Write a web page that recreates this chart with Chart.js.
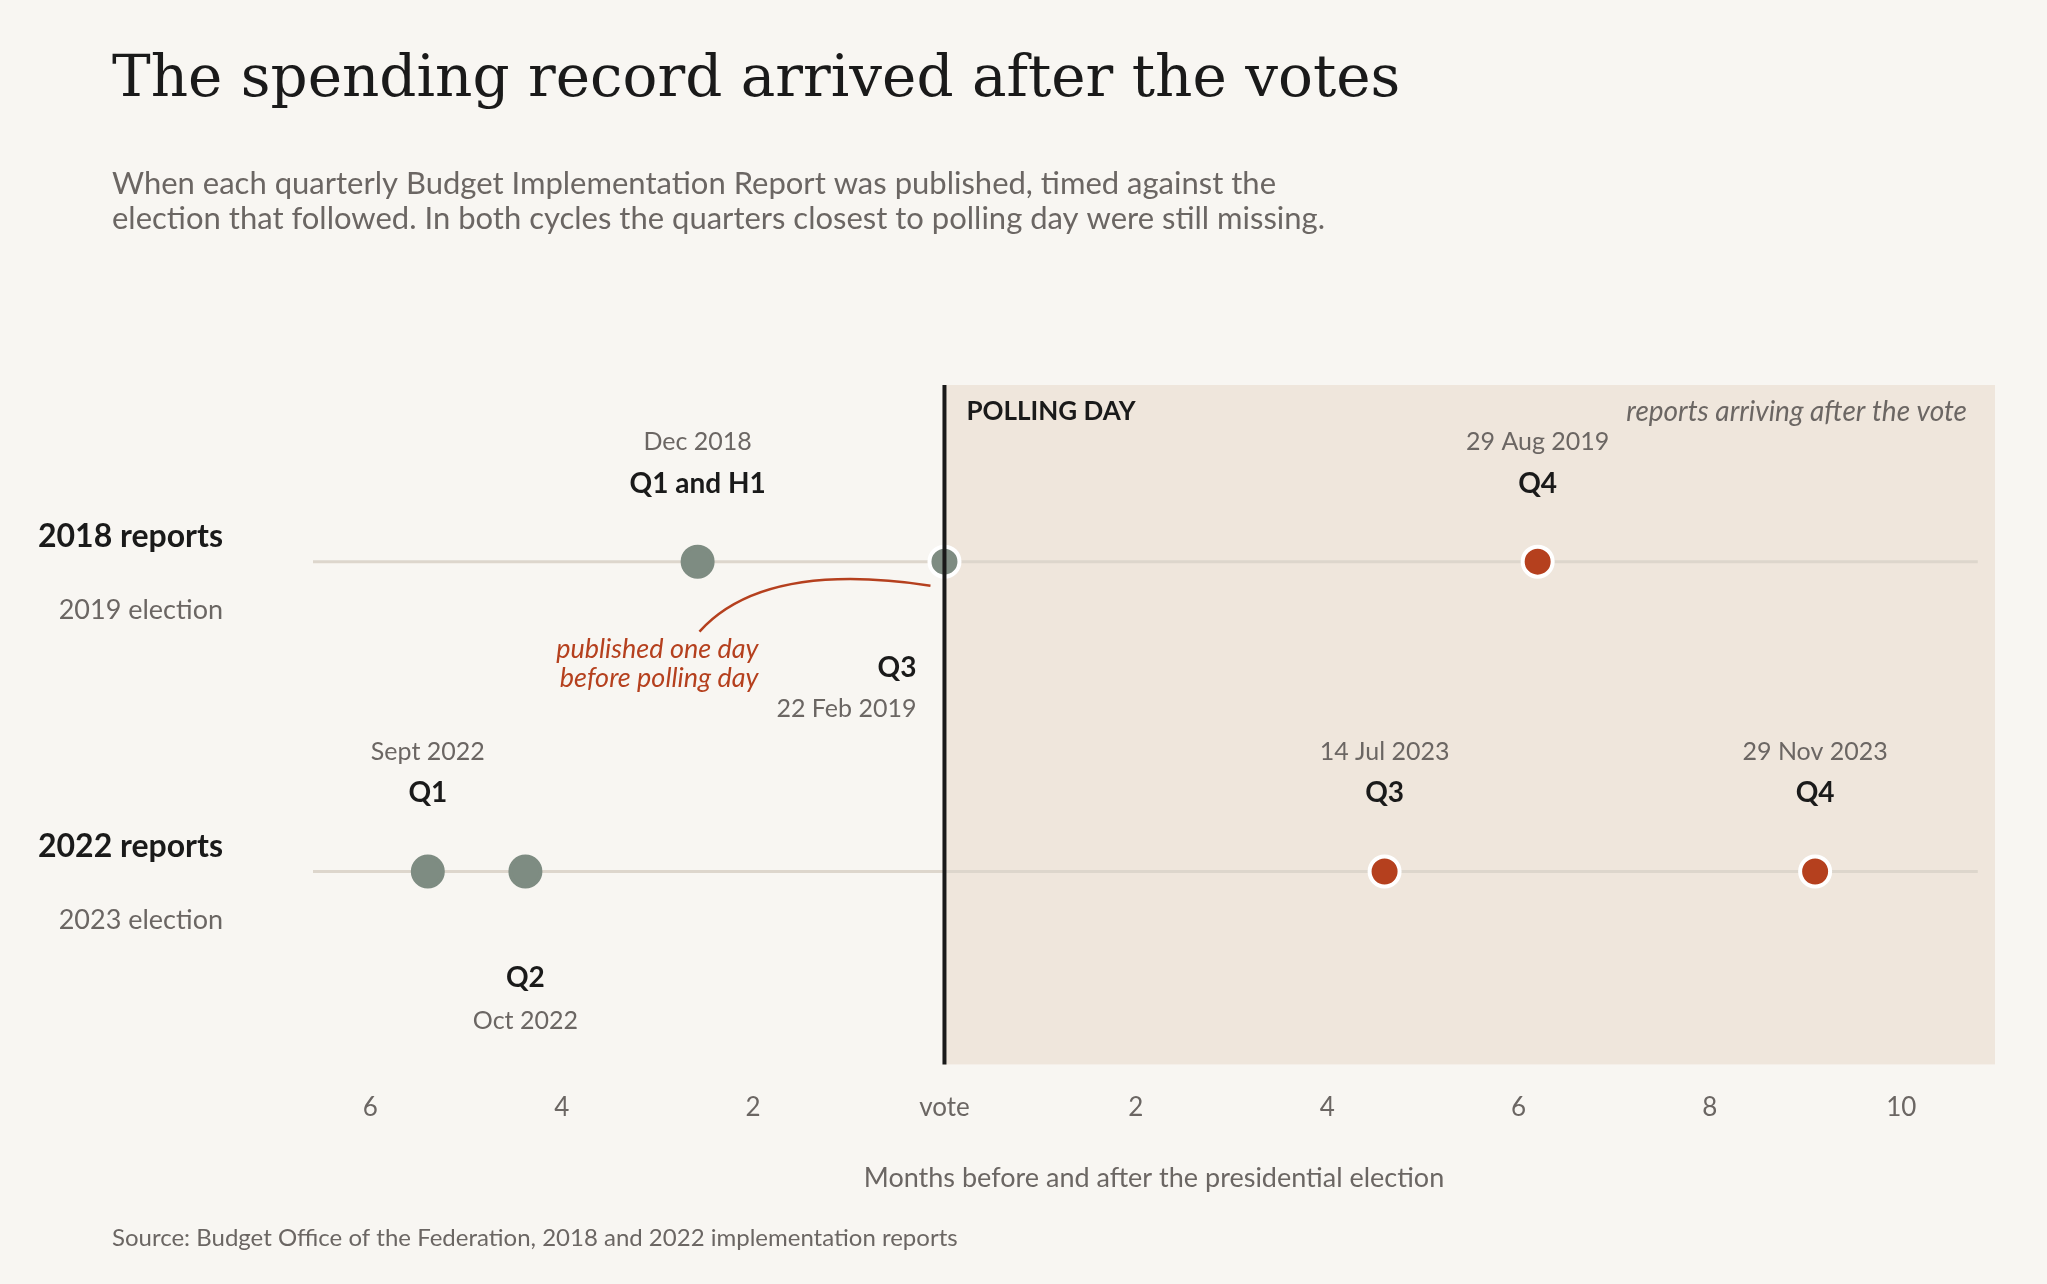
<!DOCTYPE html>
<html>
<head>
<meta charset="utf-8">
<script src="https://cdn.jsdelivr.net/npm/chart.js@4/dist/chart.umd.min.js"></script>
<style>
  html, body { margin: 0; padding: 0; background: #f8f6f2; }
  #wrap { position: relative; width: 2047px; height: 1284px; }
</style>
</head>
<body>
<div id="wrap"><canvas id="chart" width="2047" height="1284"></canvas></div>
<script>
// rows and reports
const rowNames = ['2018 reports', '2022 reports'];
const rowElections = ['2019 election', '2023 election'];
const rowY = [0.74, 0.284];

const reportRow = [0, 0, 0, 1, 1, 1, 1];
const reportMonths = [-2.58, 0, 6.2, -5.4, -4.38, 4.6, 9.1];
const reportQuarter = ['Q1 and H1', 'Q3', 'Q4', 'Q1', 'Q2', 'Q3', 'Q4'];
const reportDate = ['Dec 2018', '22 Feb 2019', '29 Aug 2019', 'Sept 2022', 'Oct 2022', '14 Jul 2023', '29 Nov 2023'];
const labelSide = ['above', 'below', 'above', 'above', 'below', 'above', 'above'];

const xTicks = [-6, -4, -2, 0, 2, 4, 6, 8, 10];
const trackFrom = -6.6, trackTo = 10.8;

const GRAY = '#7e8c82', RED = '#b5401e', SHADE = '#efe6dc', TRACK = '#ddd6cc';
const TXT = '#1a1a1a', MUTED = '#6b6663';

const points = reportMonths.map((m, i) => ({ x: m, y: rowY[reportRow[i]] }));
const colors = reportMonths.map(m => m > 0 ? RED : GRAY);
const borders = reportMonths.map(m => m >= 0 ? '#ffffff' : GRAY);

const overlay = {
  id: 'overlay',
  beforeDatasetsDraw(chart) {
    const { ctx, chartArea: a, scales: { x } } = chart;
    const x0 = x.getPixelForValue(0);
    ctx.save();
    ctx.fillStyle = SHADE;
    ctx.fillRect(x0, a.top, a.right - x0, a.bottom - a.top);
    ctx.restore();
  },
  afterDatasetsDraw(chart) {
    const { ctx, chartArea: a, scales: { x, y } } = chart;
    const x0 = x.getPixelForValue(0);
    ctx.save();
    ctx.strokeStyle = TXT; ctx.lineWidth = 4;
    ctx.beginPath(); ctx.moveTo(x0, a.top); ctx.lineTo(x0, a.bottom); ctx.stroke();

    ctx.fillStyle = TXT; ctx.font = 'bold 26px Lato'; ctx.textBaseline = 'middle';
    ctx.textAlign = 'left';
    ctx.fillText('POLLING DAY', x0 + 22, a.top + 27);
    ctx.font = 'italic 28px Lato'; ctx.fillStyle = MUTED; ctx.textAlign = 'right';
    ctx.fillText('reports arriving after the vote', a.right - 28, a.top + 27);

    // row labels
    rowNames.forEach((n, r) => {
      const py = y.getPixelForValue(rowY[r]);
      ctx.textAlign = 'right';
      ctx.fillStyle = TXT; ctx.font = 'bold 32px Lato';
      ctx.fillText(n, 223, py - 25);
      ctx.fillStyle = MUTED; ctx.font = '27px Lato';
      ctx.fillText(rowElections[r], 223, py + 49);
    });

    // point labels
    reportMonths.forEach((m, i) => {
      const px = x.getPixelForValue(m);
      const py = y.getPixelForValue(rowY[reportRow[i]]);
      if (labelSide[i] === 'above') {
        ctx.textAlign = 'center';
        ctx.fillStyle = MUTED; ctx.font = '25px Lato';
        ctx.fillText(reportDate[i], px, py - 120);
        ctx.fillStyle = TXT; ctx.font = 'bold 28px Lato';
        ctx.fillText(reportQuarter[i], px, py - 78);
      } else if (m === 0) {
        ctx.textAlign = 'right';
        ctx.fillStyle = TXT; ctx.font = 'bold 28px Lato';
        ctx.fillText(reportQuarter[i], px - 28, py + 106);
        ctx.fillStyle = MUTED; ctx.font = '25px Lato';
        ctx.fillText(reportDate[i], px - 28, py + 147);
      } else {
        ctx.textAlign = 'center';
        ctx.fillStyle = TXT; ctx.font = 'bold 28px Lato';
        ctx.fillText(reportQuarter[i], px, py + 107);
        ctx.fillStyle = MUTED; ctx.font = '25px Lato';
        ctx.fillText(reportDate[i], px, py + 149);
      }
    });

    // annotation
    const vx = x.getPixelForValue(0), vy = y.getPixelForValue(rowY[0]);
    ctx.strokeStyle = RED; ctx.lineWidth = 2.5;
    ctx.beginPath();
    ctx.moveTo(vx - 14, vy + 24);
    ctx.bezierCurveTo(vx - 120, vy + 8, vx - 200, vy + 20, vx - 245, vy + 70);
    ctx.stroke();
    ctx.fillStyle = RED; ctx.font = 'italic 27px Lato'; ctx.textAlign = 'right';
    ctx.fillText('published one day', vx - 186, vy + 88);
    ctx.fillText('before polling day', vx - 186, vy + 117);
    ctx.restore();
  }
};

const texts = {
  id: 'texts',
  beforeDraw(chart) {
    const ctx = chart.ctx;
    ctx.save();
    ctx.fillStyle = '#f8f6f2'; ctx.fillRect(0, 0, chart.width, chart.height);
    ctx.textBaseline = 'alphabetic'; ctx.textAlign = 'left';
    ctx.fillStyle = TXT; ctx.font = '58px "DejaVu Serif"';
    ctx.fillText('The spending record arrived after the votes', 112, 96);
    ctx.fillStyle = MUTED; ctx.font = '31px Lato';
    ctx.fillText('When each quarterly Budget Implementation Report was published, timed against the', 112, 194);
    ctx.fillText('election that followed. In both cycles the quarters closest to polling day were still missing.', 112, 229);
    ctx.font = '24px Lato';
    ctx.fillText('Source: Budget Office of the Federation, 2018 and 2022 implementation reports', 112, 1246);
    ctx.restore();
  }
};

const trackSets = rowY.map(v => ({
  type: 'line',
  data: [{ x: trackFrom, y: v }, { x: trackTo, y: v }],
  borderColor: TRACK, borderWidth: 3, pointRadius: 0, order: 2
}));

new Chart(document.getElementById('chart'), {
  type: 'scatter',
  data: {
    datasets: [...trackSets, {
      data: points,
      backgroundColor: colors,
      borderColor: borders,
      borderWidth: 4,
      pointRadius: 15,
      pointHoverRadius: 15,
      order: 1
    }]
  },
  options: {
    responsive: false,
    animation: false,
    layout: { padding: { left: 313, right: 52, top: 385, bottom: 90 } },
    plugins: { legend: { display: false }, tooltip: { enabled: false } },
    scales: {
      x: {
        type: 'linear', min: -6.6, max: 10.98,
        grid: { display: false }, border: { display: false },
        afterBuildTicks: s => { s.ticks = xTicks.map(v => ({ value: v })); },
        ticks: {
          color: MUTED, font: { family: 'Lato', size: 26 }, padding: 20,
          callback: v => v === 0 ? 'vote' : String(Math.abs(v))
        },
        title: {
          display: true, text: 'Months before and after the presidential election',
          color: MUTED, font: { family: 'Lato', size: 27 }, padding: { top: 18, bottom: 0 }
        }
      },
      y: { min: 0, max: 1, display: false }
    }
  },
  plugins: [texts, overlay]
});
</script>
</body>
</html>
